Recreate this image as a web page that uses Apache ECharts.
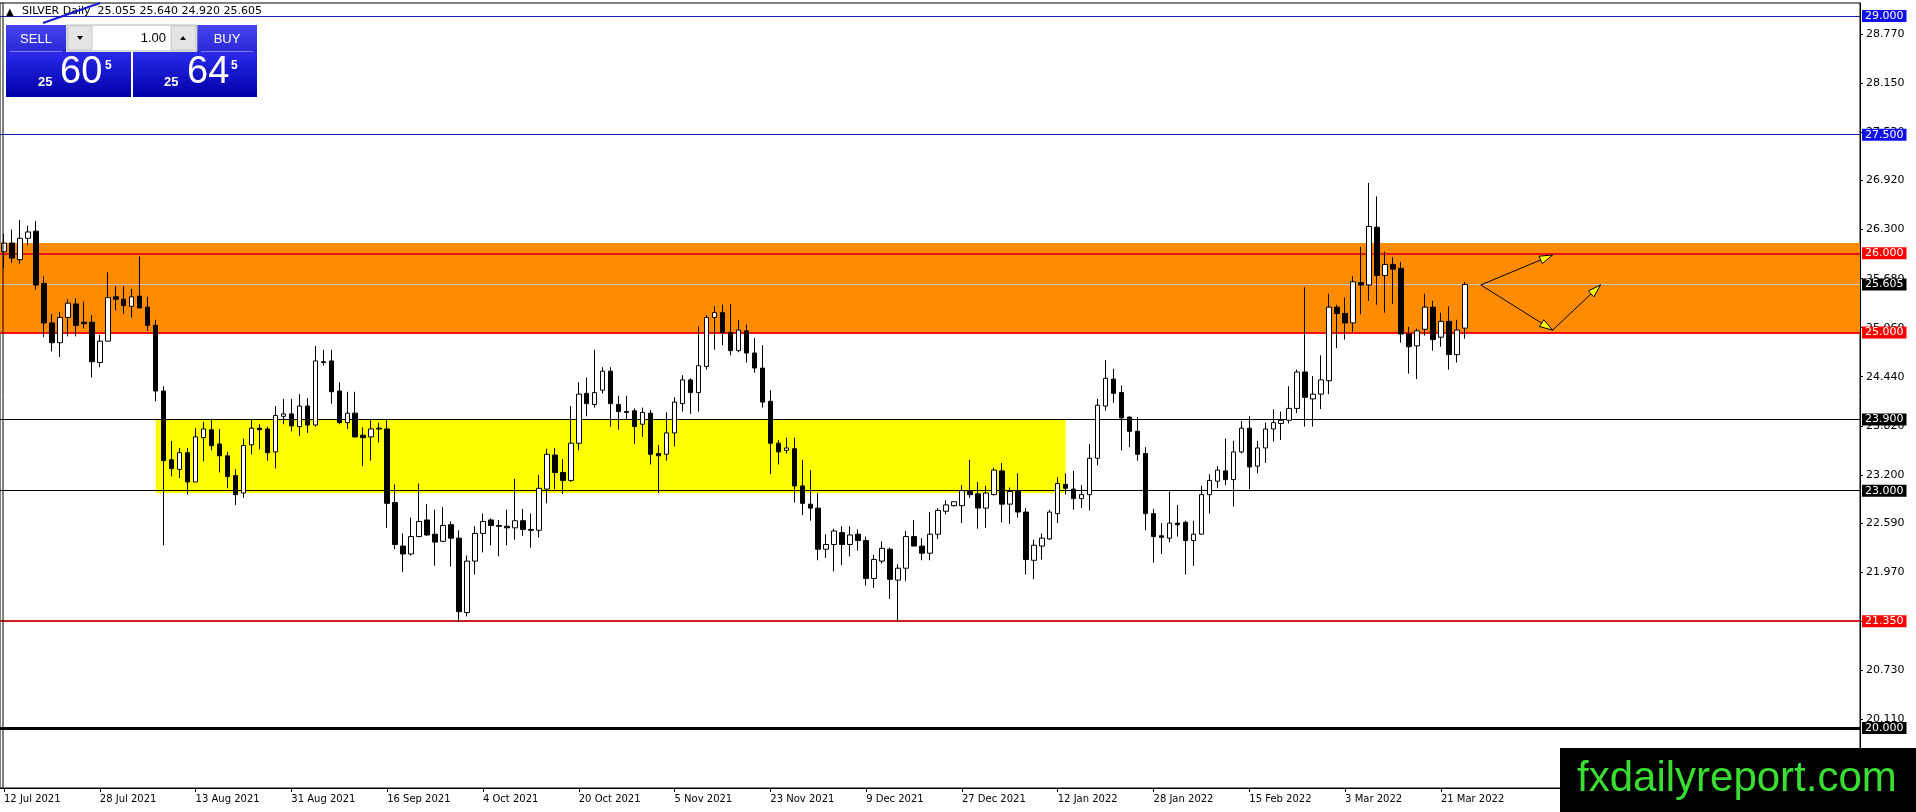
<!DOCTYPE html>
<html>
<head>
<meta charset="utf-8">
<title>SILVER Daily</title>
<script src="https://cdn.jsdelivr.net/npm/echarts@6/dist/echarts.min.js"></script>
<style>
  html, body { margin: 0; padding: 0; background: #fff; }
  #chart { width: 1916px; height: 812px; }
</style>
</head>
<body>
<div id="chart"></div>
<script>
// daily bars, 12 Jul 2021 .. 24 Mar 2022
var opens = [26.02,26.13,25.92,26.19,26.28,25.62,25.12,24.87,25.19,25.36,25.13,25.13,24.62,24.89,25.45,25.42,25.33,25.46,25.32,25.09,
  24.26,23.39,23.27,23.48,23.11,23.67,23.77,23.59,23.44,23.19,22.97,23.58,23.79,23.78,23.49,23.94,23.97,23.81,24.07,23.83,
  24.63,24.64,24.26,23.86,23.98,23.70,23.68,23.79,23.78,22.85,22.30,22.20,22.42,22.63,22.45,22.36,22.57,22.40,21.46,22.11,
  22.46,22.63,22.56,22.55,22.53,22.62,22.51,22.50,23.02,23.45,23.23,23.13,23.60,24.23,24.09,24.27,24.51,24.09,24.00,24.01,
  23.84,23.98,23.47,23.46,23.73,24.10,24.40,24.24,24.57,25.19,25.25,25.00,24.77,25.02,24.74,24.55,24.13,23.60,23.51,23.53,
  23.06,22.83,22.78,22.26,22.32,22.47,22.32,22.45,22.37,21.89,22.11,22.26,21.87,22.02,22.42,22.30,22.21,22.45,22.74,22.81,
  22.81,22.99,22.96,22.78,22.95,23.25,22.83,22.99,22.73,22.12,22.30,22.39,22.71,23.08,23.02,22.90,22.95,23.41,24.07,24.41,
  24.24,23.93,23.75,23.47,22.71,22.43,22.40,22.59,22.60,22.37,22.45,22.95,23.12,23.25,23.14,23.49,23.79,23.31,23.54,23.78,
  23.85,23.89,24.04,24.50,24.16,24.22,24.39,25.32,25.24,25.12,25.63,25.60,26.33,25.72,25.86,25.81,24.98,24.83,25.04,25.32,
  24.94,25.14,24.72,25.055];
var highs = [26.25,26.30,26.42,26.35,26.41,25.71,25.23,25.26,25.42,25.43,25.39,25.22,24.97,25.76,25.59,25.59,25.55,25.96,25.45,25.16,
  24.32,23.63,23.54,23.54,23.79,23.87,23.91,23.78,23.49,23.27,23.66,23.90,23.84,23.81,24.07,24.16,24.16,24.22,24.17,24.83,
  24.78,24.78,24.37,24.25,24.25,23.80,23.91,23.86,23.91,23.08,22.46,22.66,23.09,22.83,22.76,22.79,22.61,22.50,22.18,22.55,
  22.71,22.65,22.63,22.76,23.15,22.77,22.71,23.20,23.53,23.54,23.40,24.07,24.37,24.43,24.78,24.56,24.56,24.20,24.20,24.04,
  24.05,24.02,23.58,23.99,24.18,24.46,24.42,25.08,25.22,25.33,25.35,25.36,25.16,25.10,24.93,24.84,24.27,23.64,23.67,23.67,
  23.39,23.26,22.97,22.45,22.52,22.55,22.55,22.51,22.42,22.19,22.36,22.28,22.07,22.49,22.63,22.40,22.73,22.78,22.88,22.86,
  23.07,23.39,23.11,23.06,23.29,23.35,23.04,23.22,22.78,22.38,22.46,22.76,23.17,23.22,23.25,23.07,23.59,24.16,24.65,24.54,
  24.33,23.94,23.93,23.55,22.77,22.59,22.99,22.82,22.62,22.62,23.06,23.21,23.31,23.66,23.63,23.88,23.94,23.63,23.86,24.03,
  24.00,24.32,24.53,25.57,24.45,24.71,25.49,25.35,25.44,25.71,26.08,26.89,26.72,26.02,25.95,25.89,25.07,25.05,25.49,25.40,
  25.25,25.33,25.16,25.640];
var lows = [25.81,25.88,25.87,26.10,25.54,24.94,24.76,24.69,24.95,24.95,25.05,24.43,24.56,24.89,25.28,25.23,25.19,25.31,25.02,24.13,
  22.31,23.18,23.16,22.95,23.11,23.37,23.51,23.23,23.03,22.82,22.91,23.46,23.52,23.38,23.28,23.84,23.75,23.69,23.73,23.81,
  24.58,24.10,23.84,23.78,23.67,23.31,23.38,23.61,22.53,22.26,21.97,22.18,22.41,22.43,22.05,22.35,22.04,21.34,21.41,21.94,
  22.22,22.31,22.17,22.31,22.38,22.43,22.28,22.41,22.84,23.02,22.96,23.11,23.51,23.94,24.05,24.23,23.81,23.77,23.89,23.59,
  23.68,23.33,22.97,23.38,23.56,24.00,23.97,24.00,24.53,24.78,24.84,24.71,24.75,24.62,24.49,24.05,23.21,23.33,23.47,22.85,
  22.69,22.62,22.12,22.15,21.98,22.06,22.17,22.24,21.80,21.77,22.08,21.63,21.35,21.86,22.30,22.12,22.12,22.39,22.70,22.80,
  22.59,22.91,22.52,22.53,22.94,22.60,22.58,22.66,21.94,21.88,22.13,22.38,22.59,22.95,22.76,22.78,22.75,23.32,24.01,24.11,
  23.51,23.55,23.38,22.50,22.09,22.20,22.35,22.42,21.94,22.05,22.45,22.71,23.03,23.07,22.80,23.47,23.02,23.22,23.35,23.62,
  23.64,23.85,23.98,23.81,23.81,24.03,24.22,24.80,24.91,25.01,25.23,25.40,25.35,25.25,25.36,24.87,24.48,24.41,24.96,24.77,
  24.82,24.53,24.62,24.920];
var closes = [26.13,25.94,26.19,26.27,25.60,25.12,24.87,25.19,25.37,25.09,25.11,24.63,24.89,25.44,25.42,25.34,25.45,25.31,25.09,24.26,
  23.38,23.28,23.48,23.11,23.68,23.78,23.57,23.44,23.18,22.95,23.57,23.79,23.77,23.48,23.95,23.97,23.82,24.07,23.83,24.64,
  24.62,24.25,23.86,23.98,23.68,23.67,23.78,23.78,22.84,22.32,22.20,22.42,22.61,22.44,22.35,22.56,22.40,21.47,22.11,22.46,
  22.61,22.56,22.55,22.53,22.62,22.51,22.50,23.03,23.46,23.23,23.13,23.60,24.22,24.10,24.24,24.51,24.10,24.00,23.99,23.81,
  23.99,23.46,23.44,23.73,24.12,24.40,24.24,24.58,25.19,25.25,25.00,24.77,25.03,24.74,24.55,24.12,23.60,23.49,23.54,23.06,
  22.84,22.78,22.26,22.32,22.49,22.32,22.44,22.37,21.89,22.13,22.27,21.88,22.02,22.42,22.30,22.21,22.45,22.75,22.82,22.86,
  23.00,22.95,22.78,22.97,23.26,22.83,22.99,22.73,22.13,22.31,22.40,22.73,23.09,23.03,22.90,22.95,23.41,24.08,24.42,24.23,
  23.92,23.75,23.46,22.71,22.42,22.41,22.59,22.57,22.37,22.45,22.95,23.13,23.26,23.14,23.49,23.79,23.30,23.54,23.78,23.86,
  23.89,24.04,24.50,24.18,24.22,24.40,25.32,25.24,25.12,25.64,25.60,26.34,25.72,25.86,25.80,24.98,24.82,25.02,25.32,24.91,
  25.14,24.72,25.03,25.605];

// price scale ticks drawn by the terminal
var yTicks = [28.77, 28.15, 27.53, 26.92, 26.30, 25.68, 25.06, 24.44, 23.82, 23.20, 22.59, 21.97, 21.35, 20.73, 20.11];

// horizontal levels
var levelValues = [29.0, 27.5, 26.0, 25.605, 25.0, 23.9, 23.0, 21.35, 20.0];
var levelStyles = [
  { line: '#1c1cb0', width: 1, box: '#1010ee' },
  { line: '#1c1cb0', width: 1, box: '#1010ee' },
  { line: '#ee1111', width: 2, box: '#ff0000' },
  { line: '#c8c8c8', width: 1, box: '#000000' },
  { line: '#ee1111', width: 2, box: '#ff0000' },
  { line: '#000000', width: 1, box: '#000000' },
  { line: '#000000', width: 1, box: '#000000' },
  { line: '#cc1f1f', width: 2, box: '#ff0000' },
  { line: '#000000', width: 3, box: '#000000' }
];

// zones: resistance (orange) and range (yellow, bar index span)
var orangeZone = [26.13, 25.0];
var yellowZone = [23.9, 22.97];
var yellowSpan = [19, 133];

// projection arrows (bar index, price)
var arrowX = [185, 194, 194, 200];
var arrowY = [25.60, 25.98, 25.03, 25.60];

var TOTAL_BARS = 233;
var LAST_LABEL = 180;
var MONTHS = ['Jan','Feb','Mar','Apr','May','Jun','Jul','Aug','Sep','Oct','Nov','Dec'];
var dates = [];
var d = new Date(Date.UTC(2021, 6, 12));
while (dates.length < TOTAL_BARS) {
  var wd = d.getUTCDay();
  if (wd !== 0 && wd !== 6) {
    dates.push(d.getUTCDate() + ' ' + MONTHS[d.getUTCMonth()] + ' ' + d.getUTCFullYear());
  }
  d.setUTCDate(d.getUTCDate() + 1);
}

var candles = opens.map(function (o, i) {
  return [o, closes[i], lows[i], highs[i]];
});

var showLabel = function (i) { return i % 12 === 0 && i <= LAST_LABEL; };

var chart = echarts.init(document.getElementById('chart'), null, { renderer: 'canvas' });

var levelLines = levelValues.map(function (v, i) {
  var s = levelStyles[i];
  return {
    yAxis: v,
    lineStyle: { color: s.line, width: s.width, type: 'solid' },
    label: {
      show: true,
      position: 'end',
      distance: 2,
      formatter: v.toFixed(3),
      color: '#fff',
      backgroundColor: s.box,
      padding: [1, 3, 0, 3],
      fontFamily: 'DejaVu Sans',
      fontSize: 11
    }
  };
});

chart.setOption({
  animation: false,
  backgroundColor: '#fff',
  grid: {
    left: -1,
    right: 56,
    top: 3,
    bottom: 24,
    show: true,
    borderColor: '#000',
    borderWidth: 1,
    backgroundColor: '#fff'
  },
  xAxis: {
    type: 'category',
    data: dates,
    boundaryGap: true,
    axisLine: { show: true, lineStyle: { color: '#000', width: 1 } },
    axisTick: { show: true, alignWithLabel: true, length: 4, interval: showLabel, lineStyle: { color: '#000' } },
    axisLabel: {
      interval: showLabel,
      align: 'left',
      margin: 6,
      color: '#000',
      fontFamily: 'DejaVu Sans',
      fontSize: 10
    },
    splitLine: { show: false }
  },
  yAxis: {
    type: 'value',
    position: 'right',
    min: 19.242,
    max: 29.164,
    scale: true,
    axisLine: { show: true, lineStyle: { color: '#000', width: 1 } },
    axisTick: { show: true, length: 3, customValues: yTicks, lineStyle: { color: '#000' } },
    axisLabel: {
      customValues: yTicks,
      formatter: function (v) { return v.toFixed(3); },
      margin: 6,
      color: '#000',
      fontFamily: 'DejaVu Sans',
      fontSize: 11
    },
    splitLine: { show: false }
  },
  series: [{
    name: 'SILVER',
    type: 'candlestick',
    z: 5,
    barWidth: 5,
    data: candles,
    itemStyle: {
      color: '#ffffff',
      color0: '#000000',
      borderColor: '#000000',
      borderColor0: '#000000',
      borderWidth: 1
    },
    markArea: {
      z: 1,
      silent: true,
      data: [
        [{ yAxis: orangeZone[0], itemStyle: { color: '#ff8c00' } }, { yAxis: orangeZone[1] }],
        [{ xAxis: dates[yellowSpan[0]], yAxis: yellowZone[0], itemStyle: { color: '#ffff00' } },
         { xAxis: dates[yellowSpan[1]], yAxis: yellowZone[1] }]
      ]
    },
    markLine: {
      z: 2,
      silent: true,
      symbol: ['none', 'none'],
      precision: 3,
      data: levelLines
    }
  }]
});

// panel, header and arrows
var blueBtn = {
  type: 'linear', x: 0, y: 0, x2: 0, y2: 1,
  colorStops: [{ offset: 0, color: '#4646f2' }, { offset: 1, color: '#2828d6' }]
};
var blueBox = {
  type: 'linear', x: 0, y: 0, x2: 0, y2: 1,
  colorStops: [{ offset: 0, color: '#2a2aea' }, { offset: 1, color: '#0000a8' }]
};
var uiFont = 'Liberation Sans';

function arrowHead(p0, p1) {
  var dx = p1[0] - p0[0], dy = p1[1] - p0[1];
  var len = Math.sqrt(dx * dx + dy * dy);
  var ux = dx / len, uy = dy / len;
  var bx = p1[0] - ux * 13, by = p1[1] - uy * 13;
  return {
    type: 'polygon',
    z: 60,
    shape: { points: [p1, [bx - uy * 4, by + ux * 4], [bx + uy * 4, by - ux * 4]] },
    style: { fill: '#ffff00', stroke: '#000', lineWidth: 1 }
  };
}

var pts = arrowX.map(function (x, i) {
  return chart.convertToPixel({ gridIndex: 0 }, [x, arrowY[i]]);
});

var graphics = [
  // chart frame left edge
  { type: 'line', z: 50, shape: { x1: 3, y1: 3, x2: 3, y2: 788 }, style: { stroke: '#000', lineWidth: 1 } },
  // header
  { type: 'text', z: 50, left: 6, top: 7, style: { text: '\u25B2', fill: '#000', font: '10px DejaVu Sans' } },
  { type: 'text', z: 50, left: 22, top: 6,
    style: { text: 'SILVER Daily  25.055 25.640 24.920 25.605', fill: '#000', font: '11px DejaVu Sans' } },
  { type: 'line', z: 51, shape: { x1: 43, y1: 23, x2: 100, y2: 3 }, style: { stroke: '#1a1ad0', lineWidth: 2 } },
  // SELL / BUY buttons
  { type: 'rect', z: 50, shape: { x: 6, y: 25, width: 60, height: 27 }, style: { fill: blueBtn } },
  { type: 'rect', z: 50, shape: { x: 197, y: 25, width: 60, height: 27 }, style: { fill: blueBtn } },
  { type: 'text', z: 52, x: 36, y: 39, style: { text: 'SELL', fill: '#fff', font: '13px ' + uiFont, align: 'center', verticalAlign: 'middle' } },
  { type: 'text', z: 52, x: 227, y: 39, style: { text: 'BUY', fill: '#fff', font: '13px ' + uiFont, align: 'center', verticalAlign: 'middle' } },
  { type: 'line', z: 52, shape: { x1: 10, y1: 51.5, x2: 62, y2: 51.5 }, style: { stroke: '#8080ff', lineWidth: 1 } },
  { type: 'line', z: 52, shape: { x1: 201, y1: 51.5, x2: 253, y2: 51.5 }, style: { stroke: '#8080ff', lineWidth: 1 } },
  // lot spinner
  { type: 'rect', z: 50, shape: { x: 67, y: 25, width: 130, height: 26 }, style: { fill: '#ffffff', stroke: '#b4b4b4', lineWidth: 1 } },
  { type: 'rect', z: 51, shape: { x: 68, y: 26, width: 24, height: 24 }, style: { fill: '#e4e4e4', stroke: '#c8c8c8', lineWidth: 1 } },
  { type: 'rect', z: 51, shape: { x: 171, y: 26, width: 25, height: 24 }, style: { fill: '#e4e4e4', stroke: '#c8c8c8', lineWidth: 1 } },
  { type: 'polygon', z: 52, shape: { points: [[77, 36], [83, 36], [80, 40]] }, style: { fill: '#000' } },
  { type: 'polygon', z: 52, shape: { points: [[180, 40], [186, 40], [183, 36]] }, style: { fill: '#000' } },
  { type: 'text', z: 52, x: 166, y: 38, style: { text: '1.00', fill: '#000', font: '13px ' + uiFont, align: 'right', verticalAlign: 'middle' } },
  // bid / ask boxes
  { type: 'rect', z: 50, shape: { x: 6, y: 52, width: 125, height: 45 }, style: { fill: blueBox } },
  { type: 'rect', z: 50, shape: { x: 133, y: 52, width: 124, height: 45 }, style: { fill: blueBox } },
  { type: 'text', z: 52, x: 38, y: 89, style: { text: '25', fill: '#fff', font: 'bold 13px ' + uiFont, verticalAlign: 'bottom' } },
  { type: 'text', z: 52, x: 60, y: 92, style: { text: '60', fill: '#fff', font: '38px ' + uiFont, verticalAlign: 'bottom' } },
  { type: 'text', z: 52, x: 105, y: 72, style: { text: '5', fill: '#fff', font: 'bold 12px ' + uiFont, verticalAlign: 'bottom' } },
  { type: 'text', z: 52, x: 164, y: 89, style: { text: '25', fill: '#fff', font: 'bold 13px ' + uiFont, verticalAlign: 'bottom' } },
  { type: 'text', z: 52, x: 187, y: 92, style: { text: '64', fill: '#fff', font: '38px ' + uiFont, verticalAlign: 'bottom' } },
  { type: 'text', z: 52, x: 231, y: 72, style: { text: '5', fill: '#fff', font: 'bold 12px ' + uiFont, verticalAlign: 'bottom' } },
  // watermark
  { type: 'rect', z: 70, shape: { x: 1560, y: 748, width: 356, height: 64 }, style: { fill: '#000' } },
  { type: 'text', z: 71, x: 1577, y: 779, style: { text: 'fxdailyreport.com', fill: '#3ade30', font: '42px ' + uiFont, verticalAlign: 'middle' } },
  // arrows
  { type: 'polyline', z: 59, shape: { points: [pts[0], pts[1]] }, style: { stroke: '#000', lineWidth: 1, fill: null } },
  { type: 'polyline', z: 59, shape: { points: [pts[0], pts[2], pts[3]] }, style: { stroke: '#000', lineWidth: 1, fill: null } },
  arrowHead(pts[0], pts[1]),
  arrowHead(pts[0], pts[2]),
  arrowHead(pts[2], pts[3])
];

chart.setOption({ graphic: { elements: graphics } });
</script>
</body>
</html>
